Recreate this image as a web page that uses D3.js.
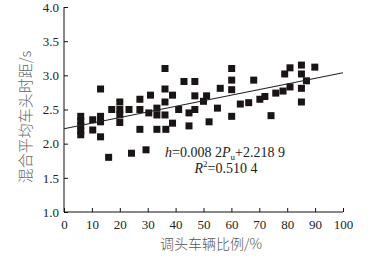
<!DOCTYPE html>
<html><head><meta charset="utf-8">
<script src="https://cdn.jsdelivr.net/npm/d3@7/dist/d3.min.js"></script>
<style>
html,body{margin:0;padding:0;background:#fff;}
svg{display:block;}
</style></head>
<body>
<svg id="chart" width="386" height="261"></svg>
<script>
// Data: U-turn vehicle ratio (%) vs mixed mean headway (s)
const ratio = [6,6,6,6,6, 10.3,10.3, 13.1,13.1,13.1,13.1, 16, 17.1, 20,20,20,20, 23.3, 24.2,
  27.2,27.2,27.2, 29.4, 30.4, 31, 33.3,33.3,33.3, 36.2,36.2,36.2,36.2, 36.5, 38.9,38.9, 41.1, 43,
  44.8,44.8, 46.9,46.9,46.9, 50, 51.1, 52, 55, 56, 60.1,60.1,60.1,60.1, 63.2, 66.2, 68, 70.2, 72,
  74.2, 75.9, 78.5, 79.1, 81,81, 85.1,85.1,85.1,85.1, 86.9, 89.9];
const headway = [2.40,2.33,2.26,2.19,2.13, 2.35,2.20, 2.80,2.40,2.32,2.10, 1.80, 2.50, 2.61,2.50,2.42,2.31, 2.50, 1.86,
  2.65,2.50,2.21, 1.91, 2.45, 2.71, 2.52,2.42,2.21, 3.10,2.80,2.61,2.42, 2.21, 2.71,2.30, 2.50, 2.91,
  2.45,2.26, 2.91,2.70,2.50, 2.62, 2.70, 2.32, 2.52, 2.81, 3.10,2.93,2.79,2.40, 2.58, 2.60, 2.93, 2.65, 2.69,
  2.41, 2.74, 2.77, 3.02, 3.11,2.83, 3.15,3.02,2.81,2.61, 2.92, 3.12];
const fitSlope = 0.0082, fitIntercept = 2.2189;
const xTicks = [0,10,20,30,40,50,60,70,80,90,100];
const yTicks = [1.0,1.5,2.0,2.5,3.0,3.5,4.0];

const svg = d3.select("#chart");
const x = d3.scaleLinear().domain([0,100]).range([64,343]);
const y = d3.scaleLinear().domain([1,4]).range([212,7]);
const serif = "'Liberation Serif','Times New Roman',serif";

// axes
const xAxis = d3.axisBottom(x).tickValues(xTicks).tickSize(-4).tickPadding(8).tickFormat(d3.format("d"));
const gx = svg.append("g").attr("transform","translate(0,212)").call(xAxis);
gx.select(".domain").attr("d", `M${x(0)},0H${x(100)}`);
const yAxis = d3.axisLeft(y).tickValues(yTicks).tickSize(-4).tickPadding(5).tickFormat(d3.format(".1f"));
const gy = svg.append("g").attr("transform","translate(64,0)").call(yAxis);
gy.select(".domain").attr("d", `M0,${y(4)}V${y(1)}`);
svg.selectAll(".tick text").attr("font-family", serif).attr("font-size", 13).attr("fill","#222");
svg.selectAll(".domain,.tick line").attr("stroke","#111").attr("stroke-width",1);

// points
const s = 7;
svg.append("g").selectAll("rect").data(ratio.map((r,i)=>[r,headway[i]])).join("rect")
  .attr("x", d => x(d[0]) - s/2).attr("y", d => y(d[1]) - s/2)
  .attr("width", s).attr("height", s).attr("fill", "#1a1414");

// fit line
svg.append("line")
  .attr("x1", x(0)).attr("y1", y(fitIntercept))
  .attr("x2", x(100)).attr("y2", y(fitIntercept + fitSlope*100))
  .attr("stroke","#222").attr("stroke-width",1.1);

// equation
const eq = svg.append("text").attr("x",225).attr("y",157).attr("text-anchor","middle")
  .attr("font-family",serif).attr("font-size",14).attr("fill","#222");
eq.append("tspan").attr("font-style","italic").text("h");
eq.append("tspan").text("=0.008 2");
eq.append("tspan").attr("font-style","italic").text("P");
eq.append("tspan").attr("font-size",9).attr("dy",3).text("u");
eq.append("tspan").attr("dy",-3).text("+2.218 9");
const r2 = svg.append("text").attr("x",226).attr("y",173).attr("text-anchor","middle")
  .attr("font-family",serif).attr("font-size",14).attr("fill","#222");
r2.append("tspan").attr("font-style","italic").text("R");
r2.append("tspan").attr("font-size",9).attr("dy",-6).text("2");
r2.append("tspan").attr("dy",6).text("=0.510 4");

// axis titles
svg.append("text").attr("x",211).attr("y",249).attr("text-anchor","middle")
  .attr("font-family","'Noto Sans CJK SC',sans-serif").attr("font-weight",300).attr("font-size",14).attr("fill","#555")
  .text("调头车辆比例/%");
svg.append("text").attr("transform","translate(31,117) rotate(-90)").attr("text-anchor","middle")
  .attr("font-family","'Noto Sans CJK SC',sans-serif").attr("font-weight",300).attr("font-size",15).attr("fill","#666")
  .text("混合平均车头时距/s");
</script>
</body></html>
